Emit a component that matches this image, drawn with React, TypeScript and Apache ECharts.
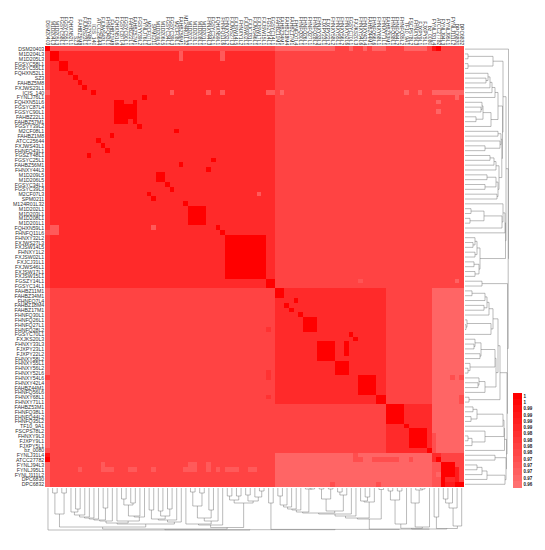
import React, { useEffect, useRef } from "react";
import * as echarts from "echarts";

const rowLabels = ["DSM20403","M1D204L3","M1D205L3","FGSYC58L1","FGSYC55L1","FQHXN52L1","SZ3","FAHBZ5M8","FXJWS23L1","ICIS_140","FYNLJ76L1","FQHXN51L6","FGSYC87L4","FGSYC90L1","FAHBZ22L1","FAHBZ57M1","FGSYY39L2","M2CF08L1","FAHBZ1M8","ATCC25644","FXJWS43L1","FHNFQ43L1","FGSZY48L1","FGSYC25L1","FAHBZ56M1","FHNXY44L3","M1D209L5","M1D206L5","FGSYC34L1","FGSYC39L3","M2CF07L3","SPM0211","M124R01L32","M1D202L1","M1D203L1","M1D208L1","M1D201L1","FQHXN59L1","FHNFQ11L6","FHNXY32L2","FXJWS27L3","FXJSW14L5","FHNXY1L2","FXJSW02L1","FXJCJ31L1","FXJWS46L1","FXJSW17L1","FXJSW15L1","FGSZY14L1","FGSYC14L1","FAHBZ11M1","FAHBZ34M1","FHNFQ7L4","FAHBZ18M4","FAHBZ17M1","FHNFQ30L1","FHNFQ26L1","FHNFQ27L1","FHNFQ28L2","FGSYC70L1","FXJKS20L3","FHNXY33L3","FJXPY23L1","FJXPY22L2","FHNXY58L2","FHNXY55L1","FHNXY56L2","FHNXY52L6","FHNXY54L6","FHNXY42L4","FAHBZ44M1","FHNFQ56L6","FHNXY68L1","FHNXY71L1","FAHBZ53M1","FHNFQ38L1","FHNFQ44L2","FHNFQ35L2","TF10_9A1","FSCPS78L2","FHNXY9L3","FJXPY9L1","FJXPY5L1","bz_0080","FYNLJ31L4","ATCC27782","FYNLJ94L3","FYNLJ95L1","FYNLJ111L2","DPC6830","DPC6832"];
const colOrder = [0,1,2,3,4,5,6,7,8,22,9,19,20,21,18,11,12,13,14,15,16,10,30,31,26,27,28,29,17,24,32,33,34,35,36,25,23,37,38,39,40,41,42,43,44,45,46,47,48,49,50,51,53,54,52,55,56,57,58,61,62,63,64,65,66,67,59,60,68,69,70,71,72,73,74,75,76,77,78,79,80,81,82,83,84,85,86,87,88,89,90];
const colLabels = colOrder.map((i) => rowLabels[i]);

// [firstCol, lastCol, firstRow, lastRow, similarity], painted in order
const baseBlocks = [
  [0,90,0,90,0.976],[1,49,1,49,0.985],[50,73,50,73,0.985],[74,83,74,83,0.985],
  [84,90,50,83,0.964],[50,83,84,90,0.964],
  [1,49,0,0,0.972],[50,62,0,0,0.964],[0,0,50,90,0.964],
  [84,85,86,90,0.97],[84,84,80,83,0.972],
];
const strongBlocks = [
  [0,0,0,0],[1,2,1,2],[3,4,3,4],[5,5,5,5],[6,6,6,6],[7,7,7,7],[8,8,8,8],[10,10,9,9],[21,21,10,10],
  [15,19,11,15],[20,20,16,16],[28,28,17,17],[14,14,18,18],[11,11,19,19],[12,12,20,20],[13,13,21,21],
  [9,9,22,22],[36,36,23,23],[29,29,24,24],[35,35,25,25],[24,25,26,27],[26,26,28,28],[27,27,29,29],
  [22,22,30,30],[23,23,31,31],[30,30,32,32],[31,34,33,36],[37,37,37,37],[38,38,38,38],[39,47,39,47],[48,49,48,49],
  [50,51,50,51],[52,52,53,53],[54,54,52,52],[53,53,54,54],[55,55,55,55],[56,58,56,58],[66,66,59,59],[67,67,60,60],
  [59,62,61,64],[65,65,61,63],[63,65,65,67],[68,71,68,71],[72,73,72,73],
  [74,77,74,77],[78,78,78,78],[79,82,79,82],[83,83,83,83],[84,84,84,84],[85,85,85,85],
  [86,88,86,88],[86,86,89,90],[89,90,90,90],[85,85,0,0],[0,0,85,85],
];
const notchBlocks = [[17,18,11,11,0.985],[18,18,15,15,0.985]];
const pinkCells = [
  [29,29,1,2,0.968],[38,38,1,2,0.968],[0,0,9,9,0.964],[27,27,9,9,0.968],[35,35,9,9,0.968],[38,38,9,9,0.968],[48,49,9,9,0.968],
  [46,46,30,30,0.968],[0,2,38,38,0.968],[1,2,37,37,0.968],[23,23,37,37,0.968],
  [51,51,9,9,0.964],[78,78,9,9,0.964],[81,81,9,9,0.964],[84,90,9,9,0.964],[89,89,10,10,0.964],[85,85,11,11,0.964],[85,85,13,13,0.964],
  [66,66,0,0,0.964],[69,69,0,0,0.964],[71,73,0,0,0.964],[78,82,0,0,0.964],
  [68,68,48,48,0.97],[89,89,48,48,0.965],
  [7,7,87,87,0.968],[12,14,87,87,0.968],[12,12,86,86,0.968],[18,19,87,87,0.968],[23,23,87,87,0.968],[30,32,87,87,0.968],[31,32,86,86,0.968],
  [35,35,86,87,0.968],[37,37,87,87,0.968],[39,41,87,87,0.968],[44,45,87,87,0.968],
  [85,85,88,88,0.964],
];
const deeperCells = [
  [84,84,0,0,0.992],[0,0,84,84,0.992],[0,0,68,68,0.978],[0,0,83,83,0.972],
  [48,48,58,58,0.982],[48,48,67,68,0.982],[48,48,72,72,0.982],
  [88,88,68,68,0.972],[90,90,68,68,0.972],[90,90,72,73,0.972],
  [67,68,85,85,0.972],[67,67,84,84,0.972],[71,76,85,85,0.972],[79,79,85,85,0.972],[62,62,90,90,0.972],[72,72,90,90,0.972],
  [84,85,84,84,0.985],[84,84,85,85,0.985],[87,88,89,89,0.985],[87,88,90,90,0.99],[89,89,87,89,0.99],[89,89,84,86,0.976],
];

// Dendrograms: [height, child, child]; 0 is a leaf. Leaves follow the order of the axis.
const colTree: any = [42,0,[41.7,
  [41,
    [39,[26,[5,0,0],[5,0,0]],
      [36,[35,
        [33,[32,[31,[30,[29,[27,[24,0,[21,0,0]],0],0],0],0],[20,0,0]],0],
        [33,0,[29,[28,[17,[11,0,0],[15,0,0]],0],0]]],
        [34,[32,[31,[22,0,0],[28,[23,0,0],[21,0,0]]],0],0]]],
    [39.5,
      [37,[36,0,[33,[30,[18,[4,0,0],[5,0,0]],[22,0,0]],0]],0],
      [15,[12,[8,0,0],[8,0,0]],[13,[7,0,0],[9,0,[3,0,0]]]]]],
  [41.4,[15,0,0],[41.1,
    [31,[30,
      [28,[26,[25,
        [24,[22,[21,[19,[17,[8,0,0],0],0],0],0],[1,0,[1,0,0]]],
        [23,[11,[1,0,0],[1,0,0]],[7,[4,0,0],0]]],0],0],
      [14,[13,0,[9,0,0]],0]],[1.5,0,0]],
    [41,
      [40.3,[36,[12,[3,0,0],[3,0,0]],0],[39,[15,0,[2,0,[1,0,0]]],0]],
      [40.5,[29,0,0],[38,[20,[15,[11,0,0],0],0],0]]]]]]];

const rowTree: any = [43.5,0,[43.2,
  [41,
    [38,[28,[3,0,0],[3,0,0]],
      [37.5,
        [33,[30,[27,[25,[23,0,[21,0,0]],0],0],0],[26,[18,[17,0,[16,0,0]],[11,0,0]],0]],
        [36.8,
          [36,[33,0,0],[35,0,[20,0,0]]],
          [34,[31,[29,[25,0,0],0],0],[33,[31,[22,0,0],[20,0,0]],[32,0,0]]]]]],
    [40.5,
      [40,[38,0,[37,[19,[6,0,0],[5,0,0]],0]],0],
      [15,[12,[10,0,[8,0,0]],[10,0,0]],[14,[9,0,0],[10,0,0]]]]],
  [42.5,[17,0,0],[42,
    [35,[33,
      [28,[24,[22,[20,[7,0,0],0],[19,0,0]],0],[26,[2,0,[1,0,0]],0]],
      [31,[30,[16,[10,0,[9,0,0]],[15,0,0]],[5,0,[3,0,0]]],[20,[14,0,[13,0,0]],0]]],[4,0,0]],
    [41.5,
      [39.5,[39,[38,[12,[8,0,0],[6,0,0]],0],[20,0,[7,[3,0,0],0]]],0],
      [41,[30,0,0],[40,[22,[17,[12,0,0],0],0],0]]]]]]];

const legendLabels = ["1","1","0.99","0.99","0.99","0.99","0.98","0.98","0.98","0.98","0.97","0.97","0.97","0.97","0.96"];
const legendValues = [1,0.997,0.994,0.991,0.989,0.986,0.983,0.98,0.977,0.975,0.972,0.969,0.966,0.963,0.96];

const N = rowLabels.length;
const FONT = '"Liberation Sans", Arial, sans-serif';

function buildCells() {
  const m: number[][] = Array.from({ length: N }, () => new Array(N).fill(0));
  const paint = (b: number[], v: number) => {
    for (let r = b[2]; r <= b[3]; r++) for (let c = b[0]; c <= b[1]; c++) m[r][c] = v;
  };
  baseBlocks.forEach((b) => paint(b, b[4]));
  strongBlocks.forEach((b) => paint(b, 1));
  notchBlocks.forEach((b) => paint(b, b[4]));
  pinkCells.forEach((b) => paint(b, b[4]));
  deeperCells.forEach((b) => paint(b, b[4]));
  const out: number[][] = [];
  m.forEach((row, r) => row.forEach((v, c) => out.push([c, r, v])));
  return out;
}

function treeSegments(tree: any) {
  let leaf = 0;
  const segs: number[][] = [];
  const walk = (n: any): [number, number] => {
    if (n === 0) return [leaf++ + 0.5, 0];
    const a = walk(n[1]);
    const b = walk(n[2]);
    segs.push([a[0], a[1], b[0], b[1], n[0]]);
    return [(a[0] + b[0]) / 2, n[0]];
  };
  walk(tree);
  return segs;
}

const stroke = { stroke: "rgba(120,120,120,0.5)", fill: "none", lineWidth: 1 };

export default function App() {
  const ref = useRef<HTMLDivElement>(null);
  useEffect(() => {
    const chart = echarts.init(ref.current!, undefined, { renderer: "svg" });
    const hiddenVal = (min: number, max: number, gridIndex: number, inverse = false) => ({
      type: "value", gridIndex, min, max, inverse, show: false,
    });
    chart.setOption({
      animation: false,
      backgroundColor: "#fff",
      grid: [
        { left: 45.7, top: 46.7, width: 418.3, height: 440 },
        { left: 45.7, top: 488, width: 418.3, height: 42 },
        { left: 465, top: 46.7, width: 43.5, height: 440 },
        { left: 513, top: 393, width: 9, height: 94.5 },
      ],
      xAxis: [
        { type: "category", gridIndex: 0, position: "top", data: colLabels, axisLine: { show: false }, axisTick: { show: false },
          axisLabel: { interval: 0, rotate: 90, fontSize: 5, margin: 1.5, color: "#333", fontFamily: FONT, hideOverlap: false } },
        hiddenVal(0, N, 1),
        hiddenVal(0, 43.5, 2),
        { type: "category", gridIndex: 3, data: [""], show: false },
      ],
      yAxis: [
        { type: "category", gridIndex: 0, inverse: true, data: rowLabels, axisLine: { show: false }, axisTick: { show: false },
          axisLabel: { interval: 0, fontSize: 5.2, margin: 1.5, color: "#333", fontFamily: FONT, hideOverlap: false } },
        hiddenVal(0, 42, 1, true),
        hiddenVal(0, N, 2, true),
        { type: "category", gridIndex: 3, inverse: true, position: "right", data: legendLabels, axisLine: { show: false }, axisTick: { show: false },
          axisLabel: { interval: 0, fontSize: 4.5, fontWeight: "bold", margin: 1.5, color: "#222", fontFamily: FONT, hideOverlap: false } },
      ],
      visualMap: { show: false, type: "continuous", min: 0.96, max: 1, seriesIndex: [0, 3], dimension: 2, inRange: { color: ["#FF7070", "#FF0000"] } },
      series: [
        { type: "heatmap", xAxisIndex: 0, yAxisIndex: 0, data: buildCells(), itemStyle: { borderWidth: 0 }, progressive: 0 },
        { type: "custom", xAxisIndex: 1, yAxisIndex: 1, clip: false, data: treeSegments(colTree),
          renderItem: (_: any, api: any) => {
            const [a, ah, b, bh, h] = [0, 1, 2, 3, 4].map((i) => api.value(i));
            return { type: "polyline", shape: { points: [api.coord([a, ah]), api.coord([a, h]), api.coord([b, h]), api.coord([b, bh])] }, style: stroke };
          } },
        { type: "custom", xAxisIndex: 2, yAxisIndex: 2, clip: false, data: treeSegments(rowTree),
          encode: { x: 1, y: 0 },
          renderItem: (_: any, api: any) => {
            const [a, ah, b, bh, h] = [0, 1, 2, 3, 4].map((i) => api.value(i));
            return { type: "polyline", shape: { points: [api.coord([ah, a]), api.coord([h, a]), api.coord([h, b]), api.coord([bh, b])] }, style: stroke };
          } },
        { type: "heatmap", xAxisIndex: 3, yAxisIndex: 3, data: legendValues.map((v, i) => [0, i, v]), itemStyle: { borderWidth: 0 } },
      ],
    });
    // Seamless cells: the heatmap rectangles snap to whole pixels.
    ref.current!.querySelectorAll("svg path").forEach((p) => {
      const fill = p.getAttribute("fill");
      if (fill && fill !== "none") (p as SVGElement).style.shapeRendering = "crispEdges";
    });
    return () => chart.dispose();
  }, []);
  return <div ref={ref} style={{ position: "absolute", left: 0, top: 0, width: 545, height: 550 }} />;
}
